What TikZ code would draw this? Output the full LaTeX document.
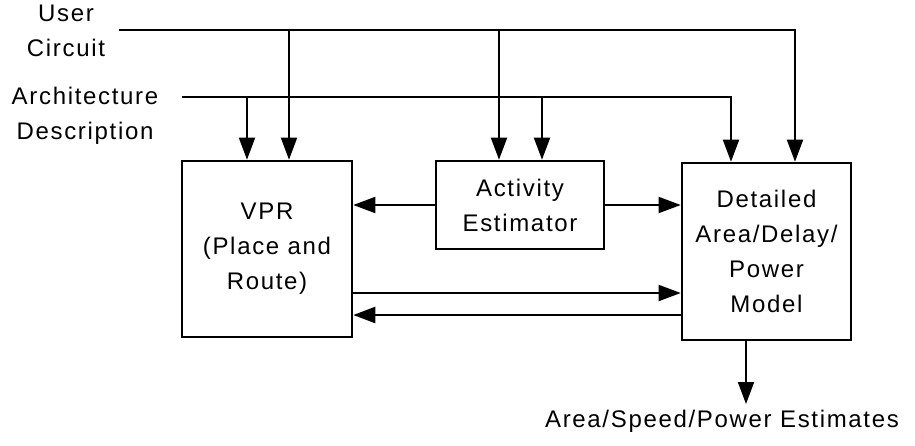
\documentclass[tikz,border=0pt]{standalone}
\usepackage{fontspec}
\setmainfont{Liberation Sans}[LetterSpace=7]
\usetikzlibrary{arrows.meta}
\begin{document}
\begin{tikzpicture}[x=1pt,y=-1pt,
  conn/.style={line width=1.9pt},
  arr/.style={conn,-{Triangle[length=22pt,width=16pt]}},
  blk/.style={draw,line width=2.6pt,inner sep=0pt,align=center,
    font=\fontsize{24pt}{35pt}\selectfont},
  lbl/.style={inner sep=0pt,align=center,font=\fontsize{24pt}{35pt}\selectfont}]
\useasboundingbox (0,0) rectangle (915,445);

% inputs
\node[lbl] (user) at (66,31) {User\\Circuit};
\node[lbl] (arch) at (85,116) {Architecture\\Description};

% blocks
\node[blk,minimum width=170pt,minimum height=176pt] (vpr) at (267,249)
  {VPR\\(Place and\\Route)};
\node[blk,minimum width=168pt,minimum height=88pt] (act) at (520,205)
  {Activity\\Estimator};
\node[blk,minimum width=169pt,minimum height=177pt] (det) at (766.5,251.5)
  {Detailed\\Area/Delay/\\Power\\Model};
\node[lbl] (est) at (722,421) {Area/Speed/Power Estimates};

% user circuit bus
\coordinate (u0) at (119,30);
\coordinate (u1) at (289,30);
\coordinate (u2) at (499,30);
\coordinate (u3) at (795,30);
\draw[arr] (u0) -- (u3) -- (u3 |- det.north);
\draw[arr] (u1) -- (u1 |- vpr.north);
\draw[arr] (u2) -- (u2 |- act.north);

% architecture bus
\coordinate (a0) at (182,97);
\coordinate (a1) at (247,97);
\coordinate (a2) at (542,97);
\coordinate (a3) at (731,97);
\draw[arr] (a0) -- (a3) -- (a3 |- det.north);
\draw[arr] (a1) -- (a1 |- vpr.north);
\draw[arr] (a2) -- (a2 |- act.north);

% block connections
\draw[arr] (act.west) -- (act.west -| vpr.east);
\draw[arr] (act.east) -- (act.east -| det.west);
\coordinate (f1) at (352,293);
\coordinate (f2) at (682,315);
\draw[arr] (f1) -- (f1 -| det.west);
\draw[arr,line width=2.4pt] (f2) -- (f2 -| vpr.east);
\coordinate (o1) at (746,340);
\draw[arr] (o1 |- det.south) -- (746,404);
\end{tikzpicture}
\end{document}
